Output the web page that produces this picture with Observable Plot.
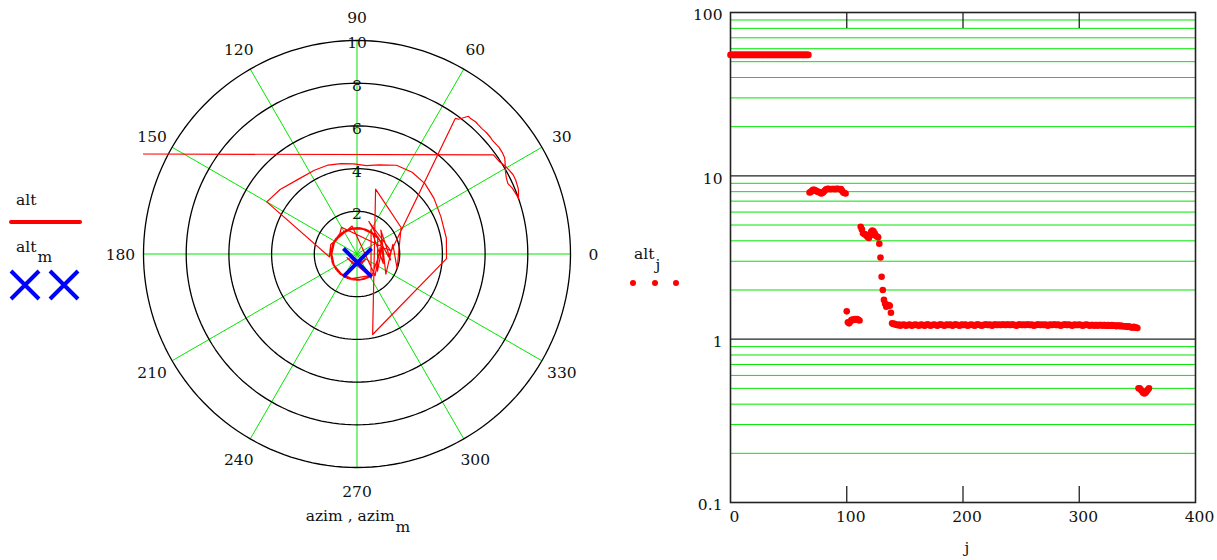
<!DOCTYPE html>
<html><head><meta charset="utf-8">
<script src="https://cdn.jsdelivr.net/npm/d3@7"></script>
<script src="https://cdn.jsdelivr.net/npm/@observablehq/plot@0.6"></script>
<style>
html,body{margin:0;padding:0;background:#fff;}
#wrap{position:relative;width:1217px;height:560px;overflow:hidden;}
#wrap svg{position:absolute;}
</style></head><body><div id="wrap"></div>
<script>
// ---------- data (index j = 0..360) ----------
const alt = [
  // j 0-67
  55,55,55,55,55,55,55,55,55,55,55,55,55,55,55,55,55,
  55,55,55,55,55,55,55,55,55,55,55,55,55,55,55,55,55,
  55,55,55,55,55,55,55,55,55,55,55,55,55,55,55,55,55,
  55,55,55,55,55,55,55,55,55,55,55,55,55,55,55,55,55,
  // j 68-99
  7.9,7.95,8.1,8.2,8.2,8.15,8.05,8.0,7.95,7.9,7.8,7.85,7.95,8.1,8.25,8.3,
  8.32,8.3,8.28,8.3,8.31,8.3,8.29,8.3,8.32,8.3,8.28,8.3,8.1,7.9,7.85,7.8,
  // j 100
  1.48,
  // j 101-111
  1.27,1.25,1.28,1.31,1.32,1.31,1.33,1.32,1.33,1.31,1.30,
  // j 112-138
  4.88,4.7,4.45,4.4,4.38,4.3,4.22,4.16,4.3,4.55,4.62,4.58,4.45,4.3,4.25,4.2,
  3.84,3.16,2.41,2.0,1.74,1.65,1.58,1.6,1.62,1.6,1.45,
  // j 139-349
  1.25,1.24,1.24,1.23,1.22,1.22,1.23,1.21,1.22,1.22,1.23,1.22,1.21,1.22,1.22,1.23,1.22,1.21,1.22,1.22,
  1.23,1.22,1.22,1.21,1.22,1.23,1.22,1.22,1.21,1.22,1.23,1.23,1.22,1.21,1.22,1.22,1.23,1.22,1.22,1.21,
  1.22,1.23,1.23,1.22,1.22,1.21,1.22,1.23,1.22,1.22,1.23,1.22,1.21,1.22,1.23,1.23,1.22,1.22,1.21,1.22,
  1.23,1.22,1.22,1.23,1.22,1.21,1.22,1.22,1.23,1.22,1.22,1.21,1.22,1.23,1.23,1.22,1.22,1.21,1.22,1.22,
  1.23,1.23,1.22,1.22,1.23,1.22,1.21,1.22,1.23,1.23,1.22,1.22,1.23,1.22,1.22,1.23,1.23,1.22,1.22,1.23,
  1.23,1.22,1.22,1.23,1.23,1.22,1.22,1.21,1.22,1.23,1.23,1.22,1.22,1.23,1.22,1.22,1.23,1.23,1.22,1.22,
  1.23,1.22,1.21,1.22,1.22,1.23,1.23,1.22,1.22,1.23,1.22,1.22,1.23,1.22,1.21,1.22,1.23,1.22,1.22,1.23,
  1.23,1.22,1.22,1.23,1.22,1.21,1.22,1.22,1.23,1.23,1.22,1.22,1.23,1.22,1.22,1.21,1.22,1.23,1.22,1.22,
  1.22,1.23,1.22,1.22,1.21,1.22,1.22,1.23,1.22,1.22,1.21,1.22,1.22,1.22,1.21,1.22,1.22,1.21,1.22,1.22,
  1.22,1.21,1.22,1.22,1.21,1.21,1.22,1.21,1.21,1.22,1.21,1.21,1.21,1.20,1.21,1.21,1.20,1.21,1.20,1.20,
  1.20,1.20,1.19,1.20,1.19,1.19,1.18,1.18,1.19,1.18,1.18,
  // j 350
  1.17,
  // j 351-360
  0.50,0.50,0.49,0.48,0.47,0.465,0.47,0.48,0.49,0.50
];
const azim = [
  // j 0-67
  175,175,175,175,175,175,175,175,175,175,175,175,175,175,175,175,175,
  175,175,175,175,175,175,175,175,175,175,175,175,175,175,175,175,175,
  175,175,175,175,175,175,175,175,175,175,175,175,175,175,175,175,175,
  175,175,175,175,175,175,175,175,175,175,175,175,175,175,175,175,175,
  // j 68-99
  36,33,30,27,25,22,20,19,21,23,25,27,29,31,33,35,
  37,38,40,41,43,44,45,47,48,49,50,51,52,53,54,54,
  // j 100
  -5,
  // j 101-111
  40,-40,20,-60,60,-20,30,-50,100,160,186,
  // j 112-127
  150,140,128,117,108,100,92,84,76,66,56,46,36,24,10,-3,
  // j 128-138
  -79,74,31,-20,15,-35,45,-10,70,5,120,
  // j 139-349
  130,155,178,200,226,250,272,295,
  280,256,230,204,180,152,126,100,75,52,38,
  60,88,112,140,168,190,215,240,268,290,302,
  285,262,236,210,186,160,135,110,84,58,42,
  66,92,120,146,172,198,222,248,274,296,
  278,250,224,198,170,145,118,92,68,45,
  70,98,124,150,176,202,228,254,280,300,
  276,252,228,204,178,154,128,102,76,50,
  72,96,122,148,174,200,226,250,276,298,
  282,258,232,206,182,156,130,104,80,54,40,
  64,90,116,142,168,194,220,246,270,294,
  274,248,222,196,170,144,118,94,70,48,
  68,94,120,146,172,198,224,250,276,300,
  280,256,230,204,178,152,126,100,74,50,
  74,100,126,152,178,204,230,256,282,302,
  284,260,234,208,182,156,130,106,82,56,42,
  66,92,118,144,170,196,222,248,272,296,
  276,250,226,200,174,148,122,96,72,48,
  70,96,122,148,174,200,226,252,278,300,
  282,258,232,206,180,154,128,102,78,52,
  76,102,128,154,180,206,232,258,
  // j 350
  300,
  // j 351-360
  200,250,300,330,280,240,260,310,290,270
];
const altM = [0.4];
const azimM = [273];

const ringValues = [2, 4, 6, 8, 10];
const spokeAngles = [0, 30, 60, 90, 120, 150, 180, 210, 240, 270, 300, 330];
const xTicks = [0, 100, 200, 300, 400];
const xInnerTicks = [100, 200, 300];
const yTicks = [0.1, 1, 10, 100];
const yMinorGrid = [0.2,0.3,0.4,0.5,0.6,0.7,0.8,0.9, 2,3,4,5,6,7,8,9, 20,30,40,50,60,70,80,90];
const yMajorGrid = [1, 10];

// ---------- derived tables ----------
const rad = d => d * Math.PI / 180;
const n = Math.min(alt.length, azim.length);
const track = alt.slice(0, n).map((a, j) => ({j, alt: a, azim: azim[j]}));
const series = alt.map((a, j) => ({j, alt: a}));
const markers = altM.map((a, i) => ({alt: a, azim: azimM[i]}));
const rMax = d3.max(ringValues);
const ringPts = ringValues.flatMap(r => d3.range(0, 362, 2).map(t => ({r, t})));

const GREEN = "#00e600";
const FAMILY = "'DejaVu Serif', serif";
const FSIZE = 15.5;
const FONT = {fontFamily: FAMILY, fontSize: FSIZE + "px", background: "transparent", overflow: "visible"};

// ---------- polar plot ----------
const polar = Plot.plot({
  width: 620, height: 540,
  marginLeft: 143, marginRight: 50, marginTop: 40, marginBottom: 73,
  x: {domain: [-rMax, rMax], axis: null},
  y: {domain: [-rMax, rMax], axis: null},
  style: FONT,
  marks: [
    Plot.link(spokeAngles, {x1: () => 0, y1: () => 0,
      x2: a => rMax * Math.cos(rad(a)), y2: a => rMax * Math.sin(rad(a)),
      stroke: GREEN, strokeWidth: 1}),
    Plot.line(ringPts, {x: d => d.r * Math.cos(rad(d.t)), y: d => d.r * Math.sin(rad(d.t)),
      z: "r", stroke: "black", strokeWidth: 1.3}),
    Plot.text(ringValues, {x: () => 0, y: r => r, text: r => String(r), dy: 3, fill: "#111"}),
    Plot.text(spokeAngles, {x: a => rMax * 1.108 * Math.cos(rad(a)), y: a => rMax * 1.108 * Math.sin(rad(a)),
      text: a => String(a), dy: 1, fill: "#111"}),
    Plot.line(track, {x: d => d.alt * Math.cos(rad(d.azim)), y: d => d.alt * Math.sin(rad(d.azim)),
      stroke: "#ff0000", strokeWidth: 1.2, clip: true}),
    Plot.dot(markers, {x: d => d.alt * Math.cos(rad(d.azim)), y: d => d.alt * Math.sin(rad(d.azim)),
      symbol: "times", r: 12.8, stroke: "#0000ff", strokeWidth: 4})
  ]
});
polar.style.left = "0px"; polar.style.top = "0px";

// ---------- log plot ----------
const logp = Plot.plot({
  width: 537, height: 530,
  marginLeft: 50, marginRight: 22, marginTop: 12, marginBottom: 28,
  x: {domain: [0, 400]},
  y: {type: "log", domain: [0.1, 100]},
  style: FONT,
  marks: [
    Plot.ruleY(yMinorGrid, {stroke: GREEN, strokeWidth: 1}),
    Plot.ruleY(yMajorGrid, {stroke: "#222", strokeWidth: 1.2}),
    Plot.tickX(xInnerTicks, {x: d => d, insetBottom: 474, stroke: "#222", strokeWidth: 1.3}),
    Plot.tickX(xInnerTicks, {x: d => d, insetTop: 474, stroke: "#222", strokeWidth: 1.3}),
    Plot.frame({stroke: "#222", strokeWidth: 1.6}),
    Plot.dot(series, {x: "j", y: "alt", r: 3.3, fill: "#ff0000", stroke: null}),
    Plot.axisX(xTicks, {tickSize: 0, tickPadding: 8, dx: 4, label: null, fill: "#111"}),
    Plot.axisY(yTicks, {tickSize: 0, tickPadding: 8, dy: 3, label: null, tickFormat: d => String(d), fill: "#111"})
  ]
});
logp.style.left = "680px"; logp.style.top = "0px";

const wrap = document.getElementById("wrap");
wrap.appendChild(polar);
wrap.appendChild(logp);

// ---------- legends & axis titles ----------
const ns = "http://www.w3.org/2000/svg";
const ov = document.createElementNS(ns, "svg");
ov.setAttribute("width", 1217); ov.setAttribute("height", 560);
ov.style.left = "0px"; ov.style.top = "0px"; ov.style.pointerEvents = "none";
ov.setAttribute("font-family", FAMILY);
ov.setAttribute("font-size", FSIZE);
ov.setAttribute("fill", "#111");
ov.innerHTML = `
  <text x="16" y="205">alt</text>
  <line x1="11" y1="222" x2="80" y2="222" stroke="#ff0000" stroke-width="4" stroke-linecap="round"/>
  <text x="16" y="251.5">alt<tspan dx="1" dy="10">m</tspan></text>
  <path d="M11,271L39,299M39,271L11,299M50,271L78,299M78,271L50,299" stroke="#0000ff" stroke-width="4" fill="none"/>
  <text x="634" y="259">alt<tspan dx="1" dy="11">j</tspan></text>
  <circle cx="633" cy="283" r="3" fill="#ff0000"/>
  <circle cx="655" cy="283" r="3" fill="#ff0000"/>
  <circle cx="676" cy="283" r="3" fill="#ff0000"/>
  <text x="358" y="521" text-anchor="middle">azim , azim<tspan dx="1" dy="10.5">m</tspan></text>
  <text x="967" y="553" text-anchor="middle">j</text>
`;
wrap.appendChild(ov);
</script></body></html>
